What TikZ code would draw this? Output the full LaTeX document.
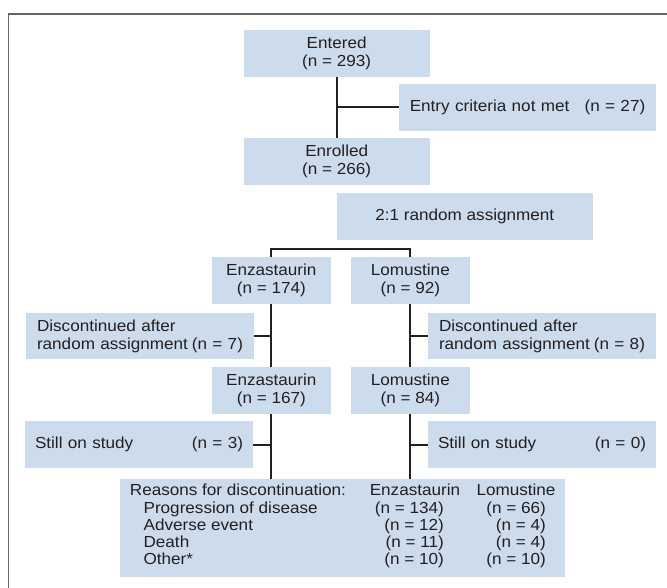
\documentclass[tikz,border=0pt]{standalone}
\usepackage{fontspec}
\setmainfont[FakeStretch=1.07]{Liberation Sans}
\definecolor{boxblue}{RGB}{204,220,237}
\definecolor{ink}{RGB}{35,31,32}
\definecolor{framegray}{RGB}{100,100,100}
\newcommand\pushright{\hspace{0pt plus 1filll}}
\begin{document}
\begin{tikzpicture}[x=1pt,y=-1pt,
  box/.style={fill=boxblue, inner sep=0pt, font=\fontsize{16}{18}\selectfont, text=ink},
  conn/.style={draw=ink, line width=2pt},
  txt/.style={inner sep=0pt, font=\fontsize{16}{17.3}\selectfont, text=ink}]
\useasboundingbox (0,0) rectangle (667,588);
\fill[white] (0,0) rectangle (667,588);
\draw[framegray, line width=1.7pt] (667,14) -- (8.5,14) -- (8.5,588);

% boxes
\node[box, minimum width=186pt, minimum height=47pt, align=center] (entered) at (336.7,53.5) {Entered\\(n = 293)};
\node[box, minimum width=257pt, minimum height=47pt, text width=235.5pt, align=left] (entry) at (527.5,107.5) {Entry criteria not met\pushright(n = 27)};
\node[box, minimum width=186pt, minimum height=47pt, align=center] (enrolled) at (336.7,161.5) {Enrolled\\(n = 266)};
\node[box, minimum width=255.6pt, minimum height=47pt, align=center] (assign) at (464.8,216.5) {2:1 random assignment};
\node[box, minimum width=118.5pt, minimum height=47pt, align=center] (enz1) at (271.3,280.5) {Enzastaurin\\(n = 174)};
\node[box, minimum width=118.5pt, minimum height=47pt, align=center] (lom1) at (410.3,280.5) {Lomustine\\(n = 92)};
\node[box, minimum width=228pt, minimum height=46pt, text width=206pt, align=left] (discL) at (140,336) {Discontinued after\\random assignment\pushright(n = 7)};
\node[box, minimum width=228pt, minimum height=46pt, text width=206pt, align=left] (discR) at (542,336) {Discontinued after\\random assignment\pushright(n = 8)};
\node[box, minimum width=118.5pt, minimum height=47pt, align=center] (enz2) at (271.3,390.5) {Enzastaurin\\(n = 167)};
\node[box, minimum width=118.5pt, minimum height=47pt, align=center] (lom2) at (410.3,390.5) {Lomustine\\(n = 84)};
\node[box, minimum width=228pt, minimum height=47pt, text width=208pt, align=left] (stillL) at (139,444.5) {Still on study\pushright(n = 3)};
\node[box, minimum width=228pt, minimum height=47pt, text width=208pt, align=left] (stillR) at (542,444.5) {Still on study\pushright(n = 0)};
\node[box, minimum width=444.5pt, minimum height=98pt] (reasons) at (342.25,528) {};

% reasons table
\node[txt, anchor=mid west] (rhead) at (129.7,493) {Reasons for discontinuation:};
\node[txt, anchor=mid] (henz) at (415,493) {Enzastaurin};
\node[txt, anchor=mid] (hlom) at (516,493) {Lomustine};
\node[txt, anchor=mid west] (r1) at (143.4,511) {Progression of disease};
\node[txt, anchor=mid west] (r2) at (143.4,528) {Adverse event};
\node[txt, anchor=mid west] (r3) at (143.4,545) {Death};
\node[txt, anchor=mid west] (r4) at (143.4,562) {Other*};
\node[txt, anchor=mid east] (e1) at (444,511) {(n = 134)};
\node[txt, anchor=mid east] (e2) at (444,528) {(n = 12)};
\node[txt, anchor=mid east] (e3) at (444,545) {(n = 11)};
\node[txt, anchor=mid east] (e4) at (444,562) {(n = 10)};
\node[txt, anchor=mid east] (l1) at (546,511) {(n = 66)};
\node[txt, anchor=mid east] (l2) at (546,528) {(n = 4)};
\node[txt, anchor=mid east] (l3) at (546,545) {(n = 4)};
\node[txt, anchor=mid east] (l4) at (546,562) {(n = 10)};

% connectors
\draw[conn] (entered.south) -- (enrolled.north);
\draw[conn] (entered.south |- entry.west) -- (entry.west);
\draw[conn] (enz1.north) -- ++(0,-8) -| (lom1.north);
\draw[conn] (enz1.south) -- (enz2.north);
\draw[conn] (lom1.south) -- (lom2.north);
\draw[conn] (discL.east) -- (discL.east -| enz1.south);
\draw[conn] (discR.west) -- (discR.west -| lom1.south);
\draw[conn] (enz2.south) -- (enz2.south |- reasons.north);
\draw[conn] (lom2.south) -- (lom2.south |- reasons.north);
\draw[conn] (stillL.east) -- (stillL.east -| enz2.south);
\draw[conn] (stillR.west) -- (stillR.west -| lom2.south);
\end{tikzpicture}
\end{document}
